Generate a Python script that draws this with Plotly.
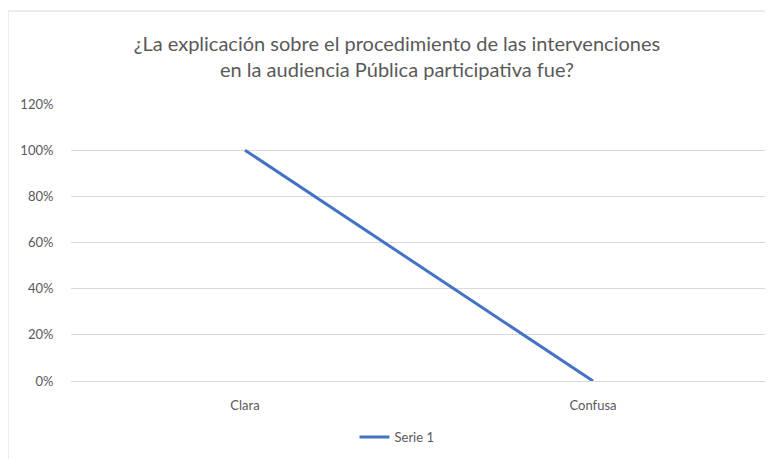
import plotly.graph_objects as go

categories = ["Clara", "Confusa"]
serie1 = [1.0, 0.0]
series_name = "Serie 1"
title_text = "¿La explicación sobre el procedimiento de las intervenciones<br>en la audiencia Pública participativa fue?"

fig = go.Figure()
fig.add_trace(go.Scatter(
    x=categories, y=serie1, mode="lines", name=series_name,
    line=dict(color="#4472C4", width=3),
))

# page has an 8px body margin; work in figure coordinates
OFF = 8
W, H = 773 - OFF, 459 - OFF
l, r, t = 71 - OFF, 6, 104 - OFF
b = H - t - 277
pw, ph = W - l - r, H - t - b

def px_x(x):
    return (x - OFF - l) / pw

def px_y(y):
    return (H - b - (y - OFF)) / ph

fig.update_layout(
    width=W, height=H,
    margin=dict(l=l, r=r, t=t, b=b),
    paper_bgcolor="white", plot_bgcolor="white",
    font=dict(family="Lato, Open Sans, sans-serif", color="#595959", size=13),
    title=dict(text=title_text, x=389 / W, xanchor="center", y=1 - 43 / H, yanchor="middle",
               yref="container", font=dict(size=20, color="#595959")),
    showlegend=True,
    legend=dict(orientation="h", x=px_x(397), xanchor="center", y=px_y(437), yanchor="middle",
                font=dict(size=13, color="#595959")),
    xaxis=dict(type="category", range=[-0.5, 1.5], showgrid=False, showline=True,
               linecolor="#d9d9d9", linewidth=1, ticks="outside", ticklen=12,
               tickcolor="rgba(0,0,0,0)", zeroline=False),
    yaxis=dict(range=[0, 1.2], dtick=0.2, tickformat=".0%", showgrid=True,
               gridcolor="#d9d9d9", gridwidth=1, showline=False, zeroline=False,
               ticks="outside", ticklen=14, tickcolor="rgba(0,0,0,0)"),
    shapes=[dict(type="rect", xref="paper", yref="paper",
                 x0=px_x(8), x1=px_x(800), y0=px_y(500), y1=px_y(11),
                 line=dict(color="#d9d9d9", width=1), fillcolor="rgba(0,0,0,0)",
                 layer="below")],
)

fig.write_html("out.html")
